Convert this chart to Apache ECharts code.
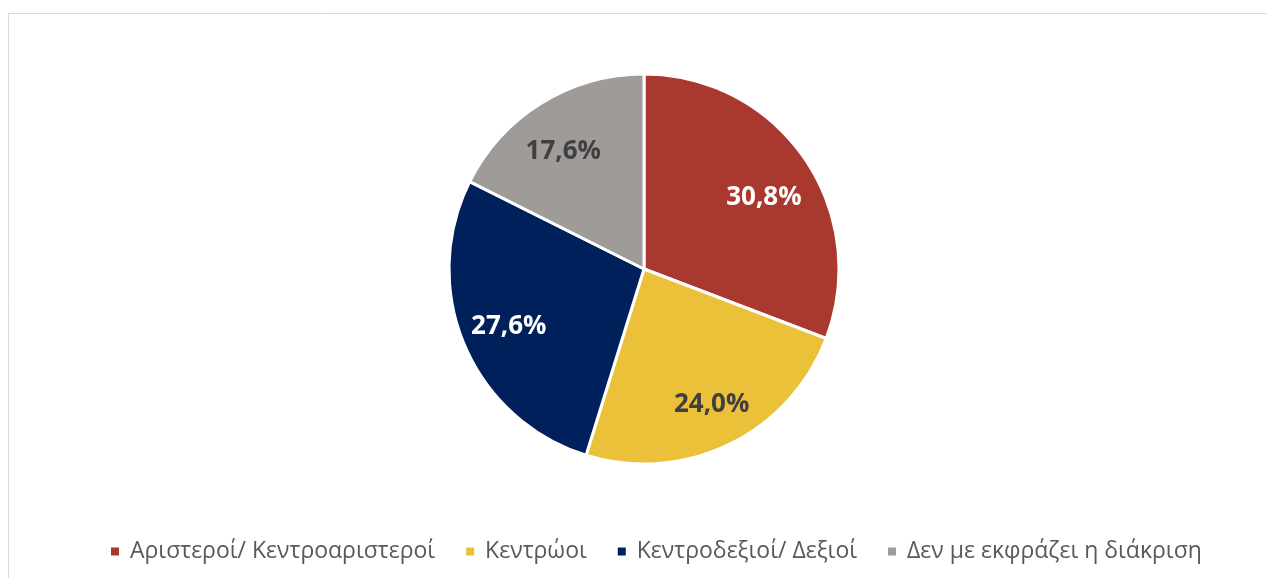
<!DOCTYPE html>
<html>
<head>
<meta charset="utf-8">
<script src="https://cdn.jsdelivr.net/npm/echarts@6/dist/echarts.min.js"></script>
<style>
  html, body { margin: 0; padding: 0; background: #fff; }
  #main { width: 1267px; height: 578px; }
</style>
</head>
<body>
<div id="main"></div>
<script>
// data
var categories = ["Αριστεροί/ Κεντροαριστεροί", "Κεντρώοι", "Κεντροδεξιοί/ Δεξιοί", "Δεν με εκφράζει η διάκριση"];
var values = [30.8, 24.0, 27.6, 17.6];
var colors = ["#A9382F", "#ECC13A", "#00205C", "#9E9B99"];
var labelColors = ["#ffffff", "#404040", "#ffffff", "#404040"];
// small nudges so labels sit where Excel put them
var labelOffsets = [[-2, 13], [3, 2], [1, 0], [-3, 9]];

var myChart = echarts.init(document.getElementById("main"));

var pieData = categories.map(function (name, i) {
  return { name: name, value: values[i], itemStyle: { color: colors[i] } };
});

// second, invisible ring only carries the labels further out (like Excel)
var labelData = categories.map(function (name, i) {
  return {
    name: name,
    value: values[i],
    itemStyle: { color: "rgba(0,0,0,0)" },
    label: { color: labelColors[i], offset: labelOffsets[i] }
  };
});

var option = {
  animation: false,
  graphic: [{
    type: "rect",
    shape: { x: 8.5, y: 13.5, width: 1280, height: 620 },
    style: { fill: "none", stroke: "#D9D9D9", lineWidth: 1 },
    silent: true
  }],
  legend: {
    data: categories,
    bottom: 10,
    left: 104,
    icon: "rect",
    itemWidth: 10,
    itemHeight: 10,
    itemGap: 29,
    textStyle: { fontFamily: "Open Sans", fontSize: 23, color: "#595959", padding: [0, 0, 0, 5] }
  },
  series: [
    {
      type: "pie",
      center: [644, 269],
      radius: [0, 195],
      startAngle: 90,
      clockwise: true,
      silent: true,
      itemStyle: { borderColor: "#fff", borderWidth: 3 },
      label: { show: false },
      labelLine: { show: false },
      data: pieData
    },
    {
      type: "pie",
      center: [644, 269],
      radius: [96, 194],
      startAngle: 90,
      clockwise: true,
      silent: true,
      legendHoverLink: false,
      label: {
        show: true,
        position: "inside",
        fontFamily: "Open Sans",
        fontWeight: "bold",
        fontSize: 26,
        formatter: function (p) {
          return p.value.toFixed(1).replace(".", ",") + "%";
        }
      },
      labelLine: { show: false },
      data: labelData
    }
  ]
};

myChart.setOption(option, true);
</script>
</body>
</html>
